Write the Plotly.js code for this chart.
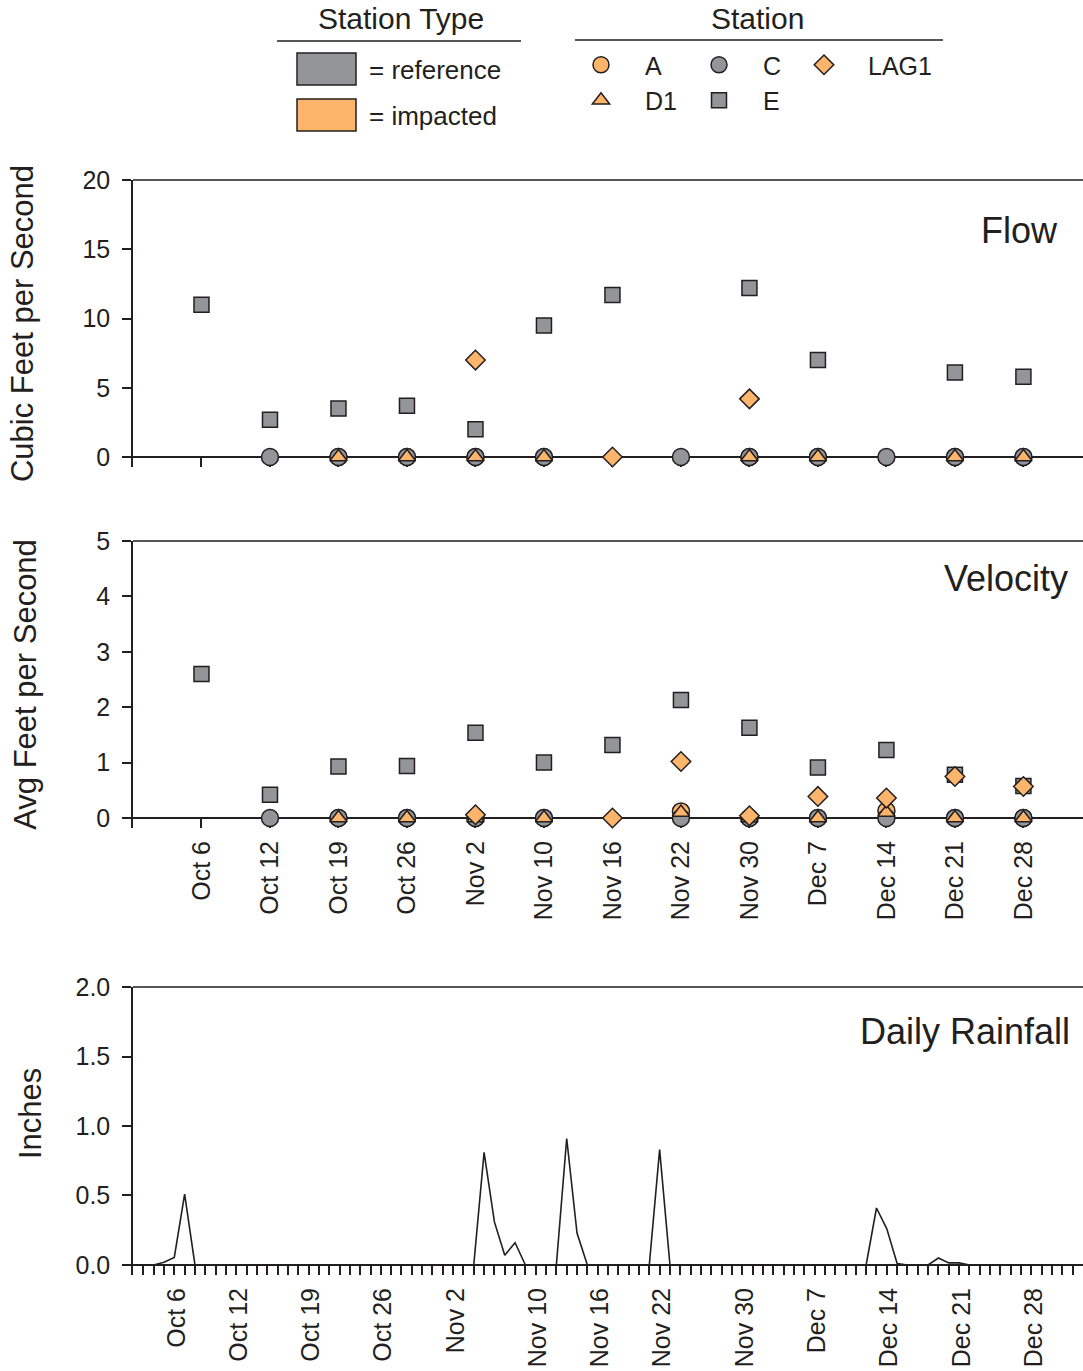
<!DOCTYPE html>
<html><head><meta charset="utf-8">
<script src="https://cdn.plot.ly/plotly-3.0.1.min.js"></script>
<style>html,body{margin:0;padding:0;background:#fff}</style>
</head><body><div id="chart" style="width:1083px;height:1371px"></div>
<script>
// ---- data ----
const stationDates = ['Oct 6','Oct 12','Oct 19','Oct 26','Nov 2','Nov 10','Nov 16','Nov 22','Nov 30','Dec 7','Dec 14','Dec 21','Dec 28'];

// Flow (cubic feet per second)
const flowA    = [null, null, 0, 0, 0, 0, null, null, 0, 0, null, 0, 0];
const flowC    = [null, 0, 0, 0, 0, 0, null, 0, 0, 0, 0, 0, 0];
const flowD1   = [null, null, 0, 0, 0, 0, null, null, 0, 0, null, 0, 0];
const flowE    = [11.0, 2.7, 3.5, 3.7, 2.0, 9.5, 11.7, null, 12.2, 7.0, null, 6.1, 5.8];
const flowLAG1 = [null, null, null, null, 7.0, null, 0, null, 4.2, null, null, null, null];

// Velocity (avg feet per second)
const velA    = [null, null, 0, 0, 0, 0, null, 0.12, 0, 0, 0.13, 0, 0];
const velC    = [null, 0, 0, 0, 0, 0, null, 0, 0, 0, 0, 0, 0];
const velD1   = [null, null, 0, 0, 0, 0, null, 0.10, 0, 0, 0.10, 0, 0];
const velE    = [2.60, 0.42, 0.93, 0.94, 1.54, 1.00, 1.32, 2.13, 1.63, 0.91, 1.23, 0.78, 0.58];
const velLAG1 = [null, null, null, null, 0.06, null, 0, 1.02, 0.04, 0.39, 0.36, 0.75, 0.57];

// Daily rainfall (inches), Oct 1 - Dec 31
const rainOct = [0,0,0,0.02,0.055,0.51,0,0,0,0, 0,0,0,0,0,0,0,0,0,0, 0,0,0,0,0,0,0,0,0,0, 0];
const rainNov = [0,0,0,0.81,0.31,0.07,0.16,0,0,0, 0,0.91,0.23,0,0,0,0,0,0,0, 0.83,0,0,0,0,0,0,0,0,0];
const rainDec = [0,0,0,0,0,0,0,0,0,0, 0,0.41,0.26,0.01,0,0,0,0.05,0.015,0.015, 0,0,0,0,0,0,0,0,0,0, 0];
const rainYear = 2000;
const rainTickDates = ['2000-10-06','2000-10-12','2000-10-19','2000-10-26','2000-11-02','2000-11-10','2000-11-16','2000-11-22','2000-11-30','2000-12-07','2000-12-14','2000-12-21','2000-12-28'];

// ---- build ----
const pad = n => (n < 10 ? '0' : '') + n;
const rainDates = [], rainVals = [];
[[10, rainOct], [11, rainNov], [12, rainDec]].forEach(([m, arr]) => {
  arr.forEach((v, i) => { rainDates.push(rainYear + '-' + pad(m) + '-' + pad(i + 1)); rainVals.push(v); });
});

const dark = '#231F20';
const gray = '#939598';
const orange = '#FDB56B';
const fontFam = 'Arial, "Liberation Sans", sans-serif';
const W = 1083, H = 1371, L = 133;
const px = x => (x - L) / (W - L);
const py = y => 1 - y / H;

const stations = [
  {name: 'A',    symbol: 'circle',      color: orange, size: 17, legend: 'legend',  flow: flowA,    vel: velA},
  {name: 'C',    symbol: 'circle',      color: gray,   size: 17, legend: 'legend2', flow: flowC,    vel: velC},
  {name: 'D1',   symbol: 'triangle-up', color: orange, size: 15, legend: 'legend',  flow: flowD1,   vel: velD1},
  {name: 'E',    symbol: 'square',      color: gray,   size: 15, legend: 'legend2', flow: flowE,    vel: velE},
  {name: 'LAG1', symbol: 'diamond',     color: orange, size: 15, legend: 'legend3', flow: flowLAG1, vel: velLAG1}
];

const traces = [];
stations.forEach(s => {
  const marker = {symbol: s.symbol, size: s.size, color: s.color, line: {color: dark, width: 1.5}};
  traces.push({type: 'scatter', mode: 'markers', name: s.name, x: stationDates, y: s.flow,
    xaxis: 'x', yaxis: 'y', marker: marker, legend: s.legend, showlegend: true, cliponaxis: false});
});
stations.forEach(s => {
  const marker = {symbol: s.symbol, size: s.size, color: s.color, line: {color: dark, width: 1.5}};
  traces.push({type: 'scatter', mode: 'markers', name: s.name, x: stationDates, y: s.vel,
    xaxis: 'x2', yaxis: 'y2', marker: marker, showlegend: false, cliponaxis: false});
});
traces.push({type: 'scatter', mode: 'lines', name: 'Daily Rainfall', x: rainDates, y: rainVals,
  xaxis: 'x3', yaxis: 'y3', line: {color: dark, width: 1.6}, showlegend: false});

const yCommon = {ticks: 'outside', ticklen: 9, tickwidth: 1.5, tickcolor: dark, showline: true, linecolor: dark,
  linewidth: 1.5, showgrid: false, zeroline: true, zerolinecolor: dark, zerolinewidth: 2, automargin: false,
  tickfont: {size: 25}, ticklabelstandoff: 7, layer: 'below traces'};
const xCommon = {ticks: 'inside', ticklen: 10, tickwidth: 1.5, tickcolor: dark, showline: false, showgrid: false,
  zeroline: false, automargin: false, tickfont: {size: 25}, tickangle: -90, ticklabelstandoff: 7, layer: 'below traces'};

const legCommon = {xanchor: 'left', yanchor: 'top', font: {size: 25}, bgcolor: 'rgba(0,0,0,0)', borderwidth: 0,
  traceorder: 'normal', itemwidth: 78};

const layout = {
  width: W, height: H, margin: {l: L, r: 0, t: 0, b: 0},
  paper_bgcolor: '#ffffff', plot_bgcolor: 'rgba(0,0,0,0)',
  font: {family: fontFam, color: dark, size: 25},
  xaxis: Object.assign({}, xCommon, {domain: [0, 1], anchor: 'y', type: 'category', range: [-1, 12.87],
    tickmode: 'array', tickvals: stationDates, showticklabels: false}),
  yaxis: Object.assign({}, yCommon, {domain: [py(467), py(180)], anchor: 'x', range: [-0.72, 20],
    tickvals: [0, 5, 10, 15, 20], title: {text: 'Cubic Feet per Second', font: {size: 31}, standoff: 40}}),
  xaxis2: Object.assign({}, xCommon, {domain: [0, 1], anchor: 'y2', type: 'category', range: [-1, 12.87],
    tickmode: 'array', tickvals: stationDates, showticklabels: true}),
  yaxis2: Object.assign({}, yCommon, {domain: [py(828), py(541)], anchor: 'x2', range: [-0.18, 5],
    tickvals: [0, 1, 2, 3, 4, 5], title: {text: 'Avg Feet per Second', font: {size: 31}, standoff: 50}}),
  xaxis3: Object.assign({}, xCommon, {domain: [0, 1], anchor: 'y3', type: 'date', range: ['2000-10-01', '2001-01-01'],
    tickmode: 'array', tickvals: rainTickDates, ticktext: stationDates, ticklabelshift: -8,
    minor: {dtick: 86400000, tick0: '2000-10-01', ticks: 'inside', ticklen: 10, tickwidth: 1.5, tickcolor: dark, showgrid: false}}),
  yaxis3: Object.assign({}, yCommon, {domain: [py(1275), py(987)], anchor: 'x3', range: [-0.072, 2],
    tickvals: [0, 0.5, 1, 1.5, 2], tickformat: '.1f'}),
  legend:  Object.assign({}, legCommon, {x: px(557), y: py(42)}),
  legend2: Object.assign({}, legCommon, {x: px(675), y: py(42)}),
  legend3: Object.assign({}, legCommon, {x: px(780), y: py(42)}),
  shapes: [
    {type: 'line', xref: 'x domain', yref: 'y domain', x0: 0, x1: 1, y0: 1, y1: 1, line: {color: dark, width: 1.5}},
    {type: 'line', xref: 'x2 domain', yref: 'y2 domain', x0: 0, x1: 1, y0: 1, y1: 1, line: {color: dark, width: 1.5}},
    {type: 'line', xref: 'x3 domain', yref: 'y3 domain', x0: 0, x1: 1, y0: 1, y1: 1, line: {color: dark, width: 1.5}},
    {type: 'line', xref: 'paper', yref: 'paper', x0: px(277), x1: px(521), y0: py(41), y1: py(41), line: {color: dark, width: 1.5}},
    {type: 'line', xref: 'paper', yref: 'paper', x0: px(575), x1: px(943), y0: py(40), y1: py(40), line: {color: dark, width: 1.5}},
    {type: 'rect', xref: 'paper', yref: 'paper', x0: px(297), x1: px(356), y0: py(85), y1: py(53), fillcolor: gray, line: {color: dark, width: 1.5}},
    {type: 'rect', xref: 'paper', yref: 'paper', x0: px(297), x1: px(356), y0: py(131), y1: py(99), fillcolor: orange, line: {color: dark, width: 1.5}}
  ],
  annotations: [
    {text: 'Station Type', xref: 'paper', yref: 'paper', x: px(401), y: py(19), xanchor: 'center', yanchor: 'middle', showarrow: false, font: {size: 30}},
    {text: 'Station', xref: 'paper', yref: 'paper', x: px(757), y: py(19), xanchor: 'center', yanchor: 'middle', showarrow: false, font: {size: 30}},
    {text: '= reference', xref: 'paper', yref: 'paper', x: px(367), y: py(70), xanchor: 'left', yanchor: 'middle', showarrow: false, font: {size: 26}},
    {text: '= impacted', xref: 'paper', yref: 'paper', x: px(367), y: py(116), xanchor: 'left', yanchor: 'middle', showarrow: false, font: {size: 26}},
    {text: 'Inches', xref: 'paper', yref: 'paper', x: px(30), y: py(1114), xanchor: 'center', yanchor: 'middle', textangle: -90, showarrow: false, font: {size: 31}},
    {text: 'Flow', xref: 'paper', yref: 'paper', x: px(1060), y: py(230), xanchor: 'right', yanchor: 'middle', showarrow: false, font: {size: 36}},
    {text: 'Velocity', xref: 'paper', yref: 'paper', x: px(1070), y: py(578), xanchor: 'right', yanchor: 'middle', showarrow: false, font: {size: 36}},
    {text: 'Daily Rainfall', xref: 'paper', yref: 'paper', x: px(1072), y: py(1031), xanchor: 'right', yanchor: 'middle', showarrow: false, font: {size: 36}}
  ]
};

Plotly.newPlot('chart', traces, layout, {displayModeBar: false, responsive: false});
</script>
</body></html>
